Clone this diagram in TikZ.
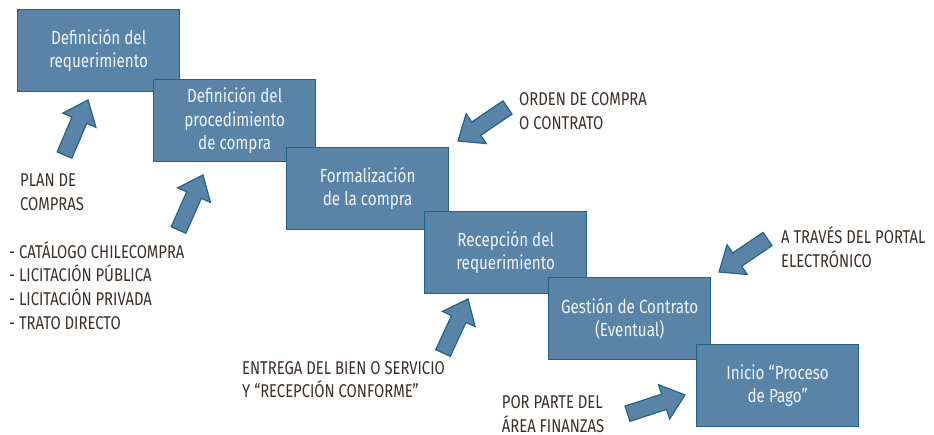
\documentclass[tikz,border=0pt]{standalone}
\usepackage{fontspec}
\setmainfont[FakeStretch=0.8]{Fira Sans}
\usetikzlibrary{calc}
\definecolor{boxfill}{HTML}{5A84A7}
\definecolor{boxline}{HTML}{1F6487}
\definecolor{boxtext}{HTML}{EEF3F7}
\definecolor{labeltext}{HTML}{3B2F2A}
\tikzset{
  stepbox/.style={draw=boxline, line width=1.3pt, fill=boxfill, text=boxtext,
    minimum width=162pt, minimum height=82pt, anchor=north west, align=center,
    inner sep=0pt, font=\fontsize{19}{23.5}\selectfont},
  lbl/.style={text=labeltext, anchor=base west, align=left, inner sep=0pt,
    font=\fontsize{18.5}{23.7}\selectfont},
  blockarr/.style={draw=boxline, line width=1.2pt, fill=boxfill, line join=miter}
}
\newcommand\blockarrow[2]{%
  \draw[blockarr]
    ($(#1)!8pt!90:(#2)$) --
    ($($(#2)!22pt!(#1)$)!8pt!90:(#2)$) --
    ($($(#2)!22pt!(#1)$)!18pt!90:(#2)$) --
    (#2) --
    ($($(#2)!22pt!(#1)$)!18pt!-90:(#2)$) --
    ($($(#2)!22pt!(#1)$)!8pt!-90:(#2)$) --
    ($(#1)!8pt!-90:(#2)$) -- cycle;}
\begin{document}
\begin{tikzpicture}[x=1pt,y=-1pt]
\useasboundingbox (0,0) rectangle (934,435);
% arrows (behind boxes)
\coordinate (t1) at (64.5,155); \coordinate (h1) at (88,100);
\coordinate (t2) at (178.5,230); \coordinate (h2) at (203,175);
\coordinate (t3) at (507.5,107.5); \coordinate (h3) at (458,141);
\coordinate (t4) at (443,353); \coordinate (h4) at (468,299);
\coordinate (t5) at (767.5,239); \coordinate (h5) at (719,272);
\coordinate (t6) at (627.5,413.7); \coordinate (h6) at (685,395);
\blockarrow{t1}{h1}
\blockarrow{t2}{h2}
\blockarrow{t3}{h3}
\blockarrow{t4}{h4}
\blockarrow{t5}{h5}
\blockarrow{t6}{h6}
% boxes
\node[stepbox] (b1) at (17,9) {Definición del\\requerimiento};
\node[stepbox] (b2) at (153,79) {Definición del\\procedimiento\\de compra};
\node[stepbox] (b3) at (286,147) {Formalización\\de la compra};
\node[stepbox] (b4) at (424,211) {Recepción del\\requerimiento};
\node[stepbox] (b5) at (548,277) {Gestión de Contrato\\(Eventual)};
\node[stepbox] (b6) at (696,344) {Inicio “Proceso\\de Pago”};
% labels (anchored at the baseline of the last line)
\node[lbl] (l1) at (20,210.7) {PLAN DE\\COMPRAS};
\node[lbl] (l2) at (9,329.3) {- CATÁLOGO CHILECOMPRA\\- LICITACIÓN PÚBLICA\\- LICITACIÓN PRIVADA\\- TRATO DIRECTO};
\node[lbl] (l3) at (519,129.3) {ORDEN DE COMPRA\\O CONTRATO};
\node[lbl] (l4) at (781,267.3) {A TRAVÉS DEL PORTAL\\ELECTRÓNICO};
\node[lbl] (l5) at (242,397.7) {ENTREGA DEL BIEN O SERVICIO\\Y “RECEPCIÓN CONFORME”};
\node[lbl, text depth=0pt] (l6) at (501.7,432) {POR PARTE DEL\\ÁREA FINANZAS};
\end{tikzpicture}
\end{document}
